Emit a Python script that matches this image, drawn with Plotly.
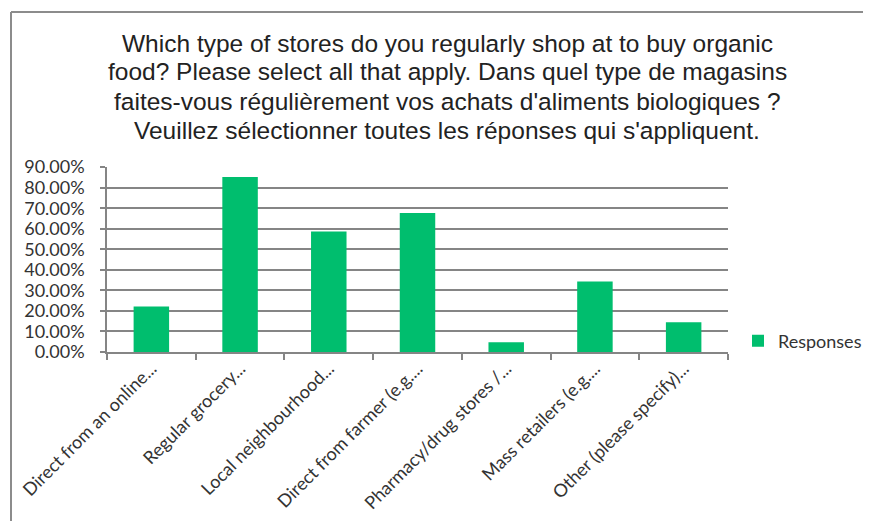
import plotly.graph_objects as go

categories = [
    "Direct from an online...",
    "Regular grocery...",
    "Local neighbourhood...",
    "Direct from farmer (e.g....",
    "Pharmacy/drug stores /...",
    "Mass retailers (e.g....",
    "Other (please specify)...",
]
responses = [0.221, 0.852, 0.587, 0.677, 0.047, 0.343, 0.145]
y_ticks = [0.0, 0.1, 0.2, 0.3, 0.4, 0.5, 0.6, 0.7, 0.8, 0.9]
series_name = "Responses"
title_lines = [
    "Which type of stores do you regularly shop at to buy organic",
    "food? Please select all that apply. Dans quel type de magasins",
    "faites-vous régulièrement vos achats d'aliments biologiques ?",
    "Veuillez sélectionner toutes les réponses qui s'appliquent.",
]

# page is 871x529; the HTML body has an 8px margin on every side
PAGE_W, PAGE_H, BODY = 871, 529, 8
W, H = PAGE_W - 2 * BODY, PAGE_H - 2 * BODY
# plot area in page pixels
L, R, T, B = 107, 728, 167, 352
pw, ph = R - L, B - T

def px(x):
    return (x - L) / pw

def py(y):
    return (B - y) / ph

GREEN = "#00BE6E"
GRID = "#858585"
FONT = "Lato, Carlito, Calibri, sans-serif"

fig = go.Figure()
fig.add_trace(go.Bar(x=categories, y=responses, name=series_name,
                     marker=dict(color=GREEN, line=dict(width=0)),
                     showlegend=True))

title_baselines = [50, 79, 108, 137]
annotations = []
for line, base in zip(title_lines, title_baselines):
    annotations.append(dict(
        text=line, xref="paper", yref="paper",
        x=px(447), y=py(base - 7), xanchor="center", yanchor="middle",
        showarrow=False, align="center",
        font=dict(family="Liberation Sans, Arial, sans-serif", size=24.5, color="#222222"),
    ))

fig.update_layout(
    width=W, height=H,
    margin=dict(l=L - BODY, r=W - (R - BODY), t=T - BODY, b=H - (B - BODY), pad=0,
                autoexpand=False),
    paper_bgcolor="white", plot_bgcolor="white",
    bargap=0.6,
    showlegend=True,
    legend=dict(x=px(738), y=py(341), xanchor="left", yanchor="middle",
                font=dict(family=FONT, size=18, color="#333333"),
                bgcolor="rgba(0,0,0,0)", itemwidth=30),
    xaxis=dict(
        type="category", showgrid=False, showline=True, linecolor=GRID, linewidth=2,
        ticks="outside", tickson="boundaries", ticklen=6, tickcolor=GRID, tickwidth=1.5,
        tickangle=-45, ticklabelstandoff=-3,
        tickfont=dict(family=FONT, size=18, color="#333333"),
        range=[-0.5, 6.5], zeroline=False, automargin=False,
    ),
    yaxis=dict(
        range=[0, 0.9005], tickvals=y_ticks, tickformat=".2%",
        showgrid=True, gridcolor=GRID, gridwidth=2,
        showline=True, linecolor=GRID, linewidth=1.5,
        ticks="outside", ticklen=5, tickcolor=GRID, tickwidth=1.5,
        ticklabelstandoff=12,
        tickfont=dict(family=FONT, size=18, color="#333333"),
        zeroline=False, automargin=False,
    ),
    annotations=annotations,
    shapes=[
        dict(type="line", xref="paper", yref="paper", x0=px(11), x1=px(11),
             y0=py(12), y1=py(540), line=dict(color="#8c8c8c", width=2)),
        dict(type="line", xref="paper", yref="paper", x0=px(11), x1=px(880),
             y0=py(12), y1=py(12), line=dict(color="#8c8c8c", width=2)),
    ],
)

fig.write_html("out.html")
